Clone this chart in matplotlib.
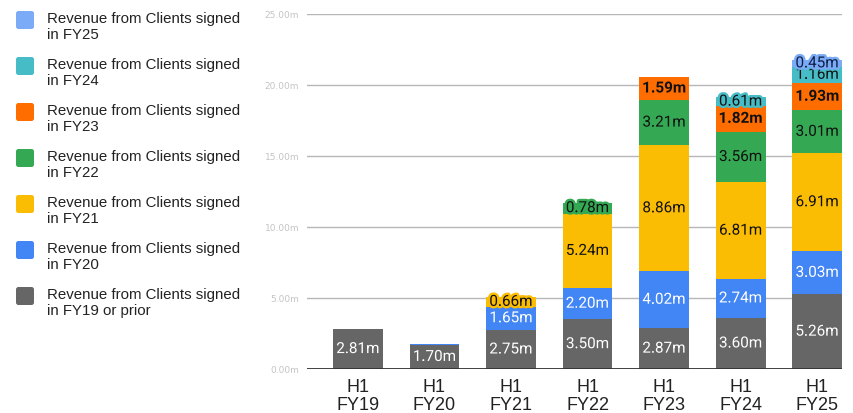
import matplotlib.pyplot as plt
import matplotlib.patheffects as pe
from matplotlib.patches import FancyBboxPatch
import numpy as np

# half-year periods and revenue (in $m) split by the year the client was signed
periods = ["H1\nFY19", "H1\nFY20", "H1\nFY21", "H1\nFY22", "H1\nFY23", "H1\nFY24", "H1\nFY25"]
cohorts = ["FY19 or prior", "FY20", "FY21", "FY22", "FY23", "FY24", "FY25"]

fy19_prior = [2.81, 1.70, 2.75, 3.50, 2.87, 3.60, 5.26]
fy20 = [0, 0.08, 1.65, 2.20, 4.02, 2.74, 3.03]
fy21 = [0, 0, 0.66, 5.24, 8.86, 6.81, 6.91]
fy22 = [0, 0, 0, 0.78, 3.21, 3.56, 3.01]
fy23 = [0, 0, 0, 0, 1.59, 1.82, 1.93]
fy24 = [0, 0, 0, 0, 0, 0.61, 1.16]
fy25 = [0, 0, 0, 0, 0, 0, 0.45]

series = [fy19_prior, fy20, fy21, fy22, fy23, fy24, fy25]
colors = ["#666666", "#4285f4", "#fbbc04", "#34a853", "#ff6d01", "#46bdc6", "#7baaf7"]
label_colors = ["white", "white", "#111111", "#111111", "#111111", "#111111", "#0d1f45"]
label_weights = ["normal", "normal", "normal", "normal", "bold", "normal", "normal"]

fig = plt.figure(figsize=(8.54, 4.13), dpi=100)
ax = fig.add_axes([0.360, 0.1065, 0.626, 0.8596])

x = np.arange(len(periods))
bottom = np.zeros(len(periods))
width = 0.65

for vals, col, tcol, weight in zip(series, colors, label_colors, label_weights):
    vals = np.array(vals)
    ax.bar(x, vals, width, bottom=bottom, color=col, zorder=2)
    for xi, v, b in zip(x, vals, bottom):
        if v < 0.2:
            continue
        ax.text(xi, b + v / 2, f"{v:.2f}m", ha="center", va="center",
                fontsize=11, family="Roboto", color=tcol, fontweight=weight,
                zorder=3, clip_on=False,
                path_effects=[pe.withStroke(linewidth=3.5, foreground=col)])
    bottom += vals

ax.set_xlim(-0.66, 6.325)
ax.set_ylim(0, 25)
ax.set_yticks(np.arange(0, 26, 5))
ax.set_yticklabels([f"{t:.2f}m" for t in np.arange(0, 26, 5)],
                   fontsize=6.5, color="#c4c4c4")
ax.yaxis.grid(True, color="#b7b7b7", linewidth=1, zorder=0)
ax.axhline(0, color="#333333", linewidth=1.3, zorder=3)
ax.tick_params(axis="y", length=0, pad=6)
ax.tick_params(axis="x", length=0, pad=7)
ax.set_xticks(x)
ax.set_xticklabels(periods, fontsize=13, family="Liberation Sans", color="#222222",
                   linespacing=1.12)
for s in ax.spines.values():
    s.set_visible(False)

# legend drawn on a pixel-sized overlay, newest cohort first
leg = fig.add_axes([0, 0, 1, 1])
leg.set_xlim(0, 854)
leg.set_ylim(413, 0)
leg.axis("off")
for i, (name, col) in enumerate(zip(cohorts[::-1], colors[::-1])):
    yc = 20 + 46 * i
    leg.add_patch(FancyBboxPatch((16, yc - 9), 18, 18,
                                 boxstyle="round,pad=0,rounding_size=2.5",
                                 facecolor=col, edgecolor="none"))
    leg.text(47, yc - 8, f"Revenue from Clients signed\nin {name}", va="top",
             ha="left", fontsize=10.8, family="Liberation Sans", color="#222222",
             linespacing=1.15)

fig.savefig("out.png", dpi=100)
